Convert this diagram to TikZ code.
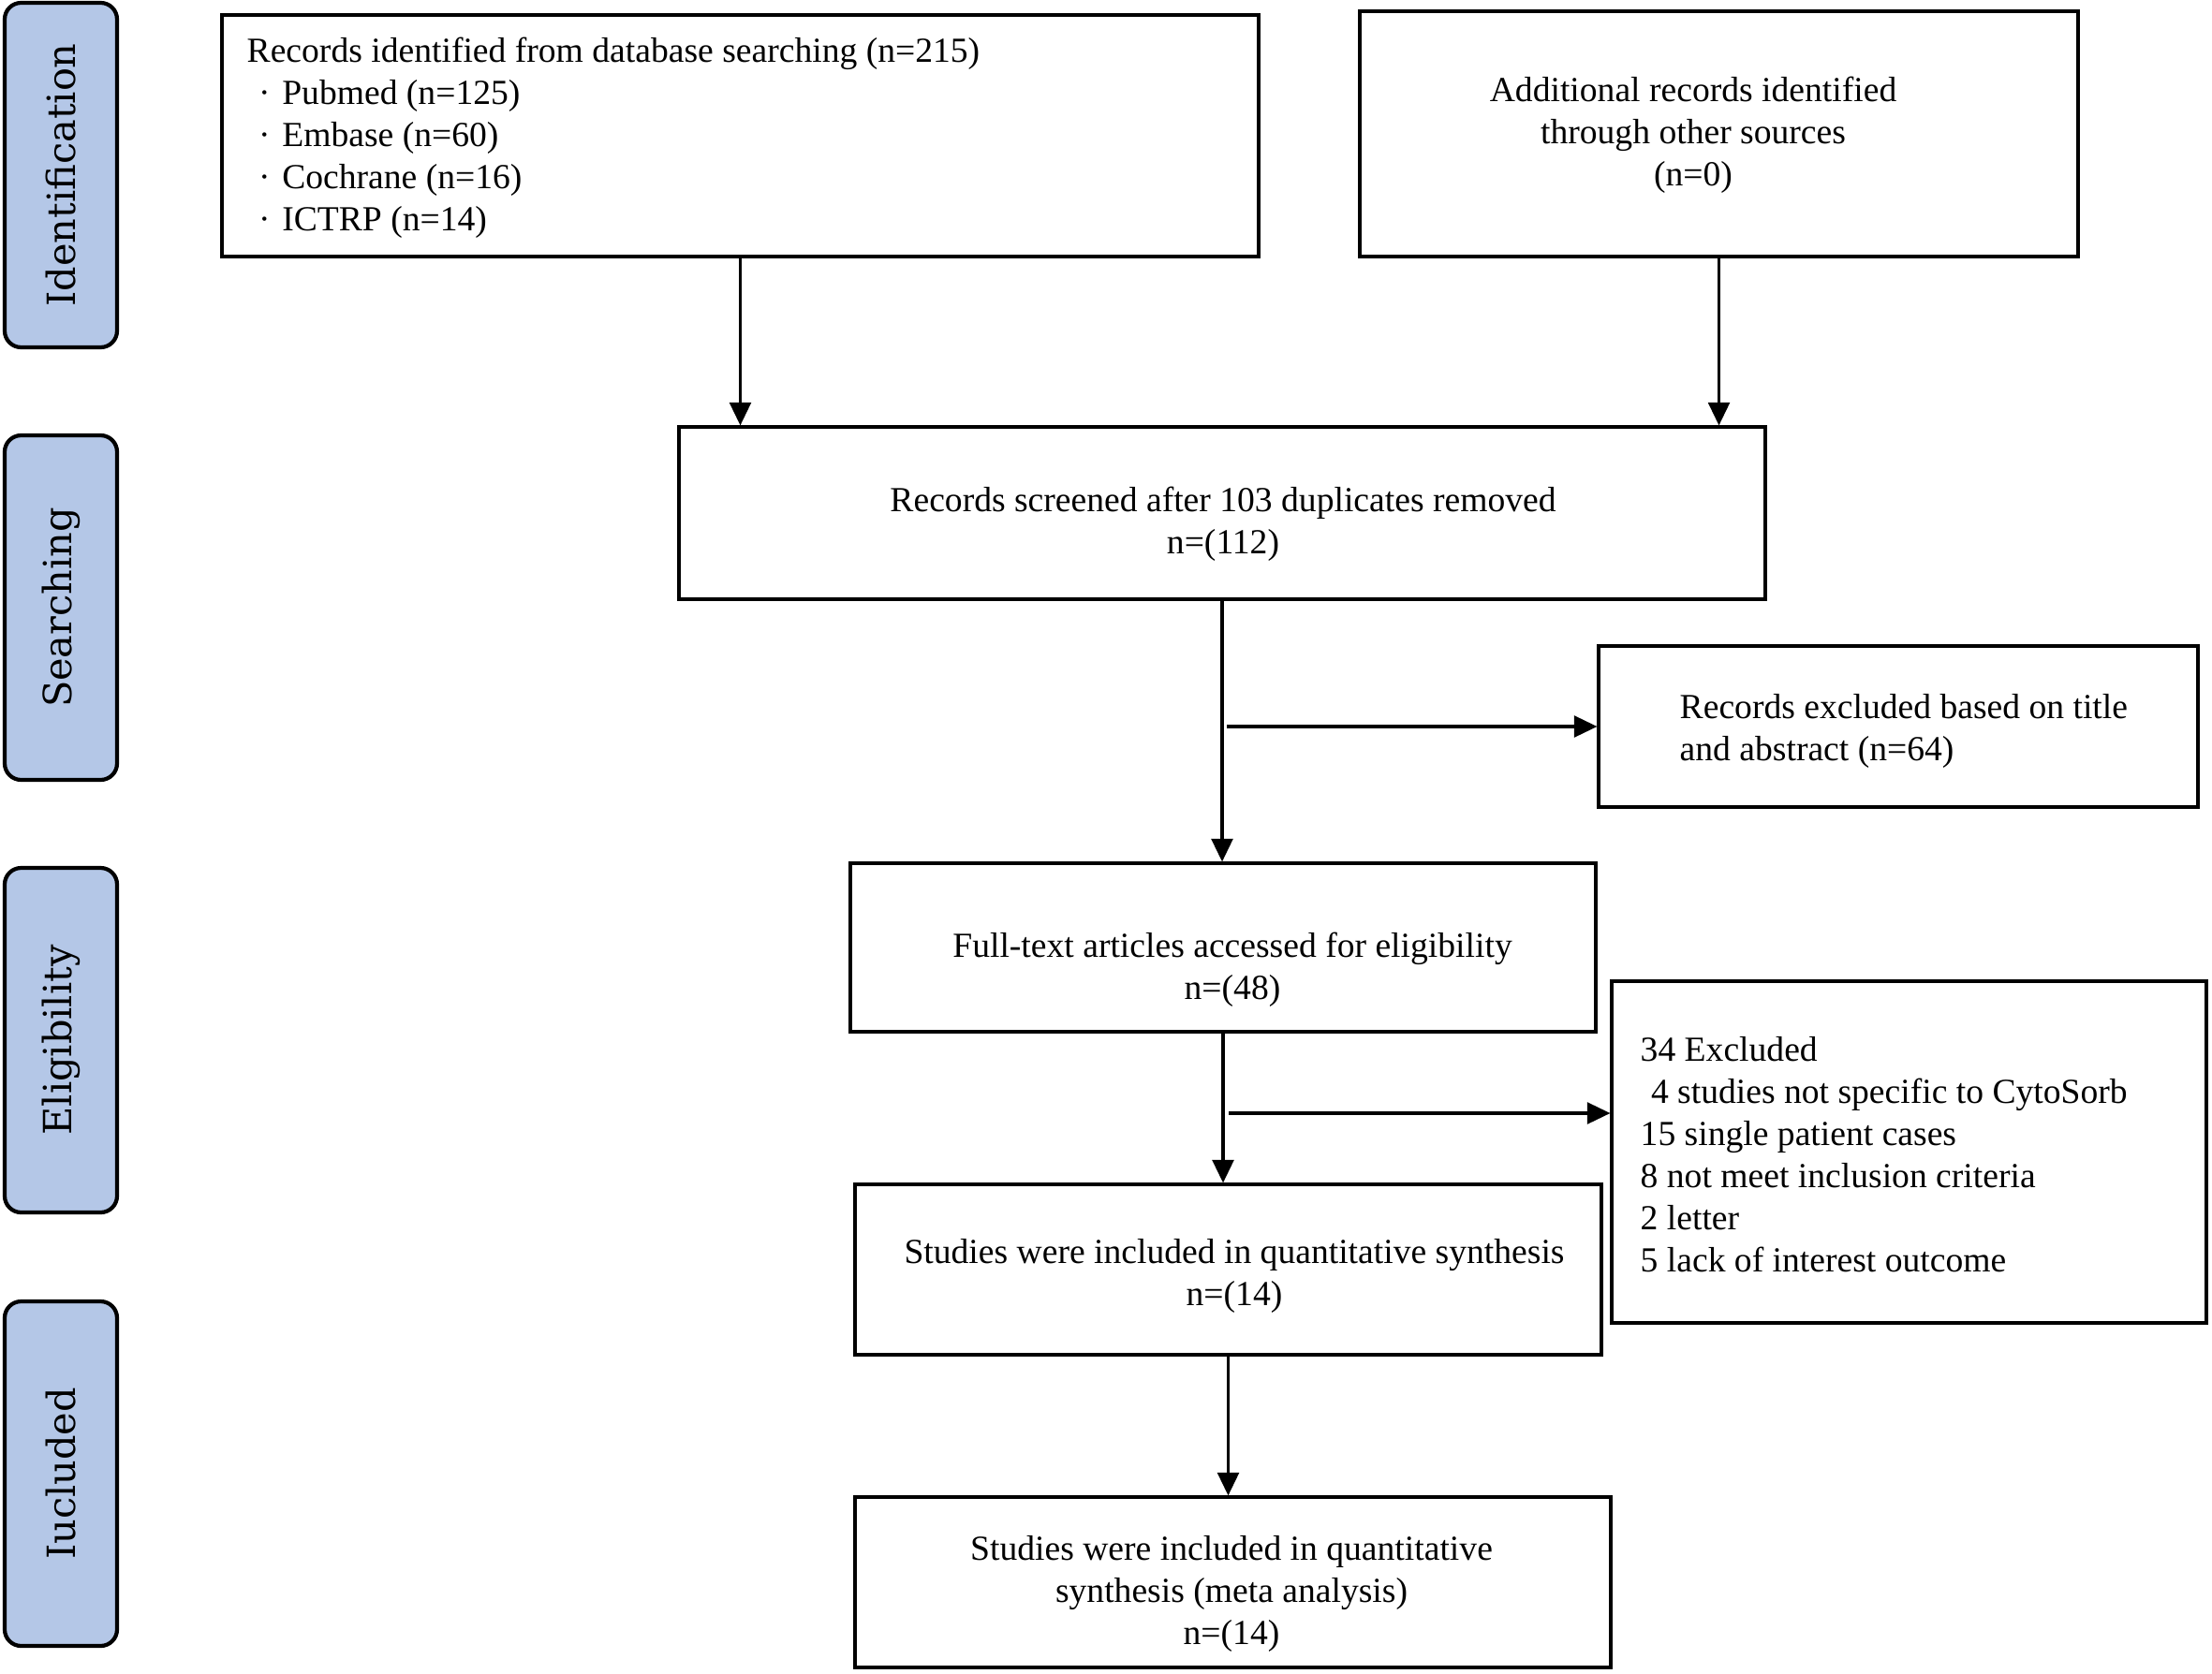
\documentclass[tikz,border=0pt]{standalone}
\usepackage{fontspec}
\setmainfont{Liberation Serif}
\newfontfamily\stagefont{DejaVu Serif}
\usetikzlibrary{arrows.meta}
\definecolor{stageblue}{HTML}{B4C7E7}

\tikzset{
	stage/.style={draw, line width=1.2pt, fill=stageblue, rounded corners=5pt, minimum width=1.2cm, minimum height=3.68cm, inner sep=0pt},
	stagetext/.style={rotate=90, inner sep=0pt, font=\stagefont\fontsize{11.8}{14}\selectfont},
	box/.style={draw, line width=0.9pt, inner sep=0pt},
	txt/.style={inner sep=0pt, font=\fontsize{10.7}{12.8}\selectfont},
	arr/.style={-{Triangle[length=7pt, width=6.5pt]}, line width=0.9pt},
}
\newcommand{\bul}{\makebox[1em][c]{·}}

\begin{document}
\begin{tikzpicture}
	\useasboundingbox (0, 0) rectangle (23.62, -17.87);

	% stages on the left
	\node[stage] (ident) at (0.65, -1.87) {};
	\node[stagetext] (identt) at (ident.center) {Identification};
	\node[stage] (search) at (0.65, -6.49) {};
	\node[stagetext] (searcht) at (search.center) {Searching};
	\node[stage] (elig) at (0.65, -11.11) {};
	\node[stagetext] (eligt) at (elig.center) {Eligibility};
	\node[stage] (incl) at (0.65, -15.74) {};
	\node[stagetext] (inclt) at (incl.center) {Iucluded};

	% boxes
	\node[box, minimum width=11.07cm, minimum height=2.58cm] (database) at (7.905, -1.45) {};
	\node[txt, anchor=west, align=left] (databaset) at (2.63, -1.47) {Records identified from database searching (n=215)\\
		\bul Pubmed (n=125)\\ \bul Embase (n=60)\\ \bul Cochrane (n=16)\\ \bul ICTRP (n=14)};
	\node[box, minimum width=7.67cm, minimum height=2.62cm] (other) at (18.355, -1.43) {};
	\node[txt, align=center] (othert) at (18.08, -1.44) {Additional records identified\\ through other sources\\ (n=0)};
	\node[box, minimum width=11.6cm, minimum height=1.84cm] (screen) at (13.05, -5.48) {};
	\node[txt, align=center] (screent) at (13.06, -5.6) {Records screened after 103 duplicates removed\\ n=(112)};
	\node[box, minimum width=6.4cm, minimum height=1.72cm] (title) at (20.27, -7.76) {};
	\node[txt, anchor=west, align=left] (titlet) at (17.93, -7.81) {Records excluded based on title\\ and abstract (n=64)};
	\node[box, minimum width=7.96cm, minimum height=1.8cm] (full) at (13.06, -10.12) {};
	\node[txt, align=center] (fullt) at (13.16, -10.36) {Full-text articles accessed for eligibility\\ n=(48)};
	\node[box, minimum width=6.35cm, minimum height=3.65cm] (excl) at (20.385, -12.305) {};
	\node[txt, anchor=west, align=left] (exclt) at (17.51, -12.33) {34 Excluded\\ \hspace*{0.3em}4 studies not specific to CytoSorb\\
		15 single patient cases\\ 8 not meet inclusion criteria\\ 2 letter\\ 5 lack of interest outcome};
	\node[box, minimum width=7.97cm, minimum height=1.82cm] (quant) at (13.115, -13.56) {};
	\node[txt, align=center] (quantt) at (13.18, -13.63) {Studies were included in quantitative synthesis\\ n=(14)};
	\node[box, minimum width=8.07cm, minimum height=1.82cm] (meta) at (13.165, -16.9) {};
	\node[txt, align=center] (metat) at (13.15, -17.02) {Studies were included in quantitative\\ synthesis (meta analysis)\\ n=(14)};

	% arrows
	\draw[arr] (database.south) -- (database.south |- screen.north);
	\draw[arr] (other.south) -- (other.south |- screen.north);
	\draw[arr] (screen.south) -- (screen.south |- full.north);
	\draw[arr] ([xshift=0.05cm]screen.south |- title.west) -- (title.west);
	\draw[arr] (full.south) -- (full.south |- quant.north);
	\coordinate (fork) at (13.12, -11.89);
	\draw[arr] (fork) -- (fork -| excl.west);
	\draw[arr] (quant.south) -- (quant.south |- meta.north);
\end{tikzpicture}
\end{document}
